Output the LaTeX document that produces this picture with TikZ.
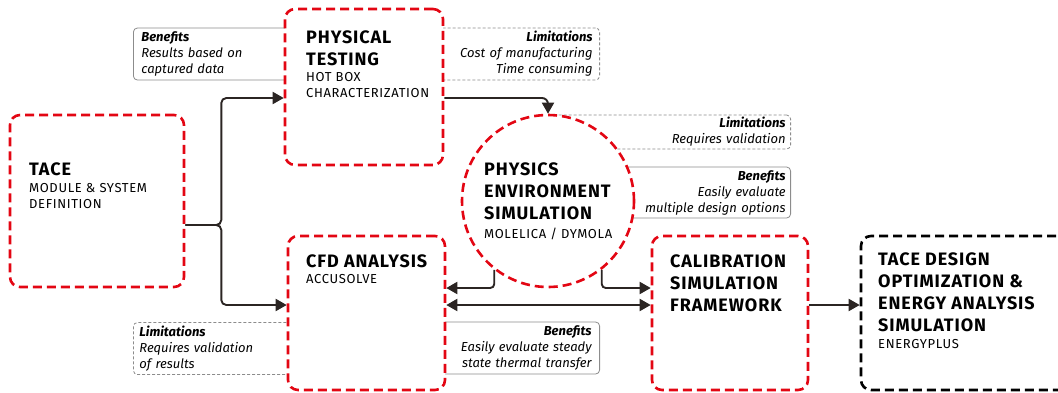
\documentclass[tikz,border=0pt]{standalone}
\usepackage{fontspec}
\setmainfont{Fira Sans}
\newfontfamily\capsfont[LetterSpace=5]{Fira Sans}
\usetikzlibrary{arrows.meta,positioning}
\definecolor{signal}{HTML}{E30613}
\definecolor{ink}{HTML}{2B2523}
\definecolor{rule}{HTML}{8C8C8C}

\begin{document}
\begin{tikzpicture}[
  x=1pt,y=-1pt,
  flow/.style={-{Triangle[length=11pt,width=12pt]},line width=1.9pt,draw=ink},
  both/.style={flow,{Triangle[length=11pt,width=12pt]}-{Triangle[length=11pt,width=12pt]}},
  stage/.style={draw=signal,line width=2.6pt,dash pattern=on 9pt off 5pt,
    rounded corners=10pt,fill=white,inner sep=0pt},
  target/.style={stage,draw=black},
  heading/.style={anchor=north west,inner sep=0pt,align=left,
    font=\fontsize{18}{22}\capsfont\bfseries},
  tool/.style={anchor=north west,inner sep=0pt,align=left,
    font=\fontsize{13}{16}\capsfont},
  benefit/.style={draw=rule,line width=0.8pt,rounded corners=4pt,fill=white,
    minimum height=52pt,inner ysep=0pt,font=\fontsize{13}{16}\selectfont\itshape},
  limit/.style={benefit,dash pattern=on 3pt off 2pt}
]
\useasboundingbox (0,0) rectangle (1058,392);

% notes sit behind the stage boxes
\node[benefit,anchor=west,text width=162pt,inner xsep=8pt,align=left] (ptgood) at (133,54)
  {\textbf{Benefits}\\Results based on\\captured data};
\node[limit,anchor=east,text width=170pt,inner xsep=7pt,align=right] (ptbad) at (600,54)
  {\textbf{Limitations}\\Cost of manufacturing\\Time consuming};
\node[limit,anchor=east,minimum height=34pt,text width=226pt,inner xsep=5pt,align=right] (simbad) at (791,132)
  {\textbf{Limitations}\\Requires validation};
\node[benefit,anchor=east,minimum height=51pt,text width=180pt,inner xsep=5pt,align=right] (simgood) at (791,192.5)
  {\textbf{Benefits}\\Easily evaluate\\multiple design options};
\node[limit,anchor=west,text width=160pt,inner xsep=6pt,align=left] (cfdbad) at (133,348.5)
  {\textbf{Limitations}\\Requires validation\\of results};
\node[benefit,anchor=east,text width=155pt,inner xsep=8pt,align=right] (cfdgood) at (600,348)
  {\textbf{Benefits}\\Easily evaluate steady\\state thermal transfer};

\node[stage,minimum width=174,minimum height=172] (tace) at (97,201) {};
\node[stage,minimum width=158,minimum height=156] (pt) at (364,87) {};
\node[stage,minimum width=157,minimum height=154] (cfd) at (366.5,313) {};
\node[stage,minimum width=156,minimum height=154] (cal) at (730,313) {};
\node[stage,circle,minimum size=172] (circ) at (548,201) {};
\begin{scope}
  \clip (0,0) rectangle (1058,392);
  \node[target,minimum width=219,minimum height=154] (opt) at (970.5,313) {};
\end{scope}

\node[heading] (tacetitle) at (29,163) {TACE};
\node[tool] (tacetool) at (29,183) {MODULE \& SYSTEM\\DEFINITION};
\node[heading] (pttitle) at (306,31) {PHYSICAL\\TESTING};
\node[tool] (pttool) at (306,72) {HOT BOX\\CHARACTERIZATION};
\node[heading] (circtitle) at (484,163) {PHYSICS\\ENVIRONMENT\\SIMULATION};
\node[tool] (circtool) at (484,228) {MOLELICA / DYMOLA};
\node[heading] (cfdtitle) at (306,255) {CFD ANALYSIS};
\node[tool] (cfdtool) at (306,274) {ACCUSOLVE};
\node[heading] (caltitle) at (670,255) {CALIBRATION\\SIMULATION\\FRAMEWORK};
\node[heading] (opttitle) at (878,253)
  {TACE DESIGN\\OPTIMIZATION \&\\ENERGY ANALYSIS\\SIMULATION};
\node[tool] (opttool) at (878,339) {ENERGYPLUS};

\draw[flow,rounded corners=5] ([yshift=-24]tace.east) -- ++(36,0) |- ([yshift=-11]pt.west);
\draw[flow,rounded corners=5] ([yshift=-24]tace.east) -- ++(36,0) |- ([yshift=8]cfd.west);
\draw[flow,rounded corners=6] ([yshift=-11]pt.east) -| (circ.north);
\draw[flow,rounded corners=4] (circ.232) |- ([yshift=25]cfd.east);
\draw[flow,rounded corners=4] (circ.308) |- ([yshift=25]cal.west);
\draw[both] ([yshift=8]cfd.east) -- ([yshift=8]cal.west);
\draw[flow] ([yshift=8]cal.east) -- ([yshift=8]opt.west);
\end{tikzpicture}
\end{document}
